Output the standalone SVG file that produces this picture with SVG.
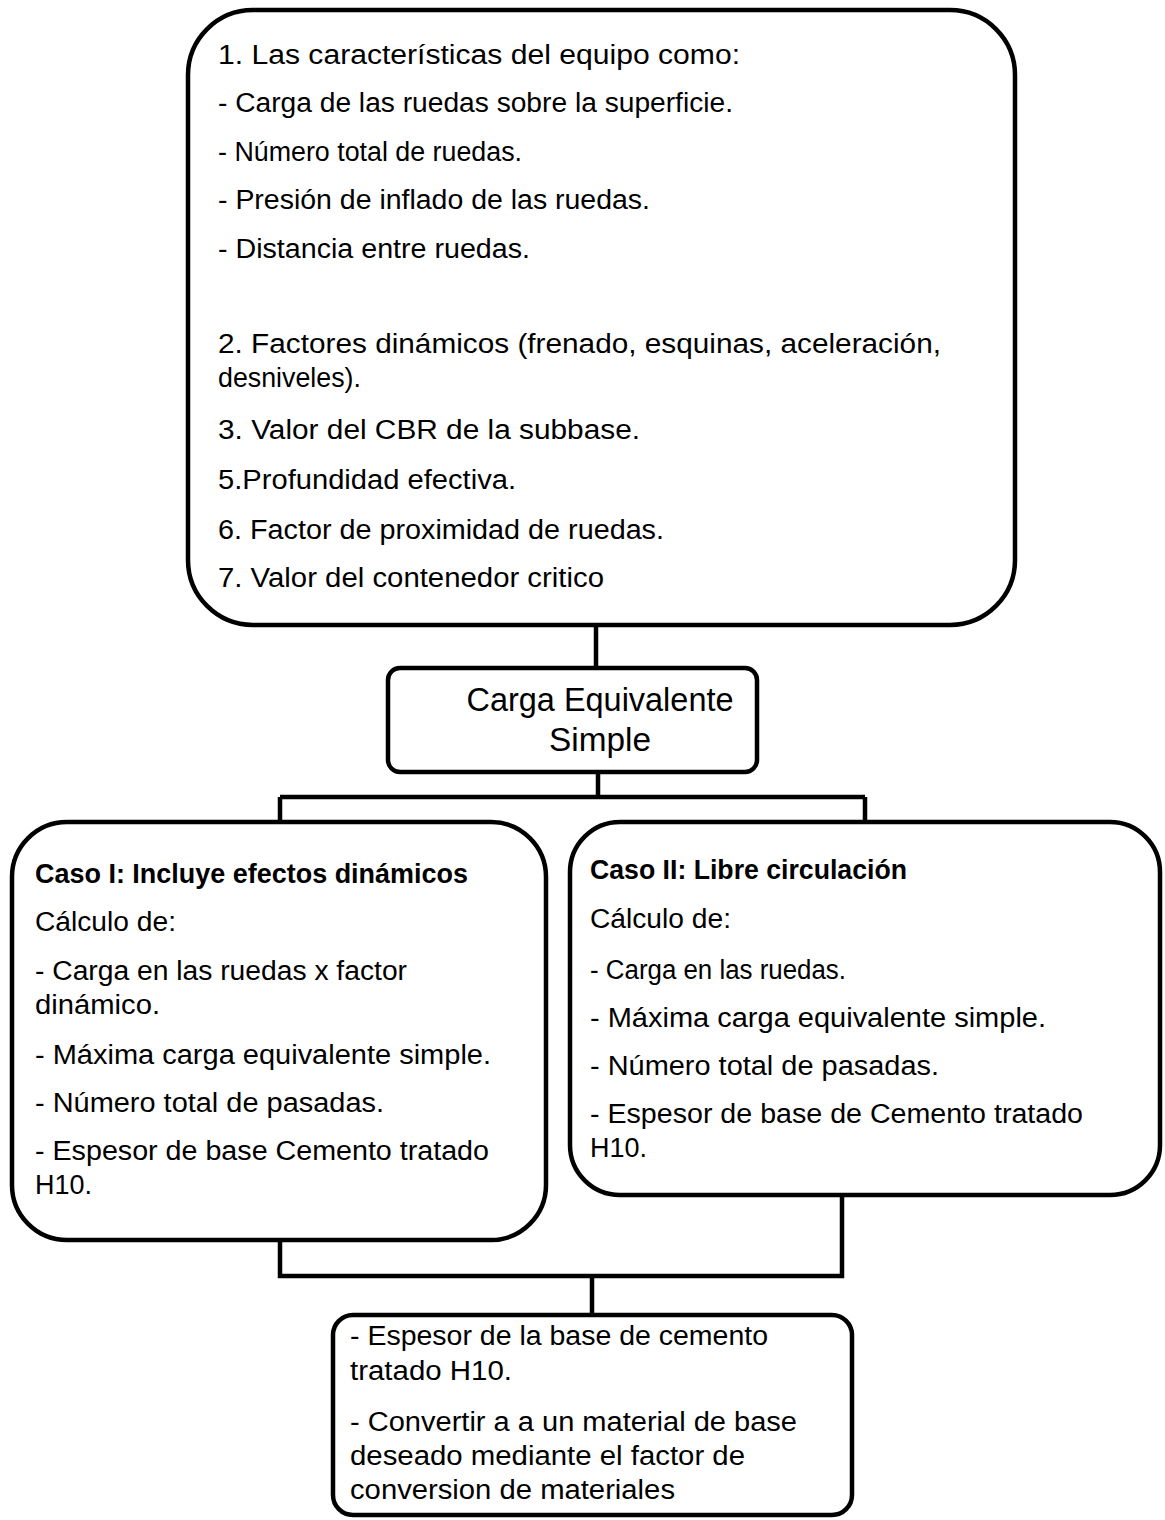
<svg xmlns="http://www.w3.org/2000/svg" width="1165" height="1520" viewBox="0 0 1165 1520">
<style>
.box{fill:#fff;stroke:#000;stroke-width:4.5}
.con{fill:none;stroke:#000;stroke-width:4.5}
text{font-family:"Liberation Sans",Arial,sans-serif;font-size:27px;fill:#000}
.b{font-weight:bold}
.big{font-size:33px}
</style>
<rect width="1165" height="1520" fill="#fff"/>
<g id="connectors">
<path class="con" d="M596 625 V668"/>
<path class="con" d="M598 772 V797 M280 797 H865 M280 797 V822 M865 797 V822"/>
<path class="con" d="M280 1240 V1276 H842 V1195 M592 1276 V1315"/>
</g>
<g id="n1">
<rect class="box" x="188" y="10" width="827" height="615" rx="65"/>
<text x="218" y="64" textLength="522" lengthAdjust="spacingAndGlyphs">1. Las características del equipo como:</text>
<text x="218" y="112" textLength="515" lengthAdjust="spacingAndGlyphs">- Carga de las ruedas sobre la superficie.</text>
<text x="218" y="161" textLength="304" lengthAdjust="spacingAndGlyphs">- Número total de ruedas.</text>
<text x="218" y="209" textLength="432" lengthAdjust="spacingAndGlyphs">- Presión de inflado de las ruedas.</text>
<text x="218" y="258" textLength="312" lengthAdjust="spacingAndGlyphs">- Distancia entre ruedas.</text>
<text x="218" y="353" textLength="723" lengthAdjust="spacingAndGlyphs">2. Factores dinámicos (frenado, esquinas, aceleración,</text>
<text x="218" y="387" textLength="143" lengthAdjust="spacingAndGlyphs">desniveles).</text>
<text x="218" y="439" textLength="422" lengthAdjust="spacingAndGlyphs">3. Valor  del CBR de la subbase.</text>
<text x="218" y="489" textLength="298" lengthAdjust="spacingAndGlyphs">5.Profundidad efectiva.</text>
<text x="218" y="539" textLength="446" lengthAdjust="spacingAndGlyphs">6. Factor de proximidad de ruedas.</text>
<text x="218" y="587" textLength="386" lengthAdjust="spacingAndGlyphs">7. Valor del contenedor critico</text>
</g>
<g id="n2">
<rect class="box" x="388" y="668" width="369" height="104" rx="12"/>
<text class="big" x="600" y="711" text-anchor="middle" textLength="267" lengthAdjust="spacingAndGlyphs">Carga Equivalente</text>
<text class="big" x="600" y="751" text-anchor="middle" textLength="102" lengthAdjust="spacingAndGlyphs">Simple</text>
</g>
<g id="n3">
<rect class="box" x="12" y="822" width="534" height="418" rx="55"/>
<text class="b" x="35" y="883" textLength="433" lengthAdjust="spacingAndGlyphs">Caso I: Incluye efectos dinámicos</text>
<text x="35" y="931" textLength="141" lengthAdjust="spacingAndGlyphs">Cálculo de:</text>
<text x="35" y="980" textLength="372" lengthAdjust="spacingAndGlyphs">- Carga en las ruedas x factor</text>
<text x="35" y="1014" textLength="125" lengthAdjust="spacingAndGlyphs">dinámico.</text>
<text x="35" y="1064" textLength="456" lengthAdjust="spacingAndGlyphs">- Máxima carga equivalente simple.</text>
<text x="35" y="1112" textLength="349" lengthAdjust="spacingAndGlyphs">- Número total de pasadas.</text>
<text x="35" y="1160" textLength="454" lengthAdjust="spacingAndGlyphs">- Espesor de base Cemento tratado</text>
<text x="35" y="1194" textLength="57" lengthAdjust="spacingAndGlyphs">H10.</text>
</g>
<g id="n4">
<rect class="box" x="570" y="822" width="590" height="373" rx="50"/>
<text class="b" x="590" y="879" textLength="317" lengthAdjust="spacingAndGlyphs">Caso II: Libre circulación</text>
<text x="590" y="928" textLength="141" lengthAdjust="spacingAndGlyphs">Cálculo de:</text>
<text x="590" y="979" textLength="256" lengthAdjust="spacingAndGlyphs">- Carga en las ruedas.</text>
<text x="590" y="1027" textLength="456" lengthAdjust="spacingAndGlyphs">- Máxima carga equivalente simple.</text>
<text x="590" y="1075" textLength="349" lengthAdjust="spacingAndGlyphs">- Número total de pasadas.</text>
<text x="590" y="1123" textLength="493" lengthAdjust="spacingAndGlyphs">- Espesor de base de Cemento tratado</text>
<text x="590" y="1157" textLength="57" lengthAdjust="spacingAndGlyphs">H10.</text>
</g>
<g id="n5">
<rect class="box" x="333" y="1315" width="519" height="200" rx="20"/>
<text x="350" y="1345" textLength="418" lengthAdjust="spacingAndGlyphs">- Espesor de la base de cemento</text>
<text x="350" y="1380" textLength="162" lengthAdjust="spacingAndGlyphs">tratado H10.</text>
<text x="350" y="1431" textLength="447" lengthAdjust="spacingAndGlyphs">- Convertir a a un material de base</text>
<text x="350" y="1465" textLength="395" lengthAdjust="spacingAndGlyphs">deseado mediante el factor de</text>
<text x="350" y="1499" textLength="325" lengthAdjust="spacingAndGlyphs">conversion de materiales</text>
</g>
</svg>
